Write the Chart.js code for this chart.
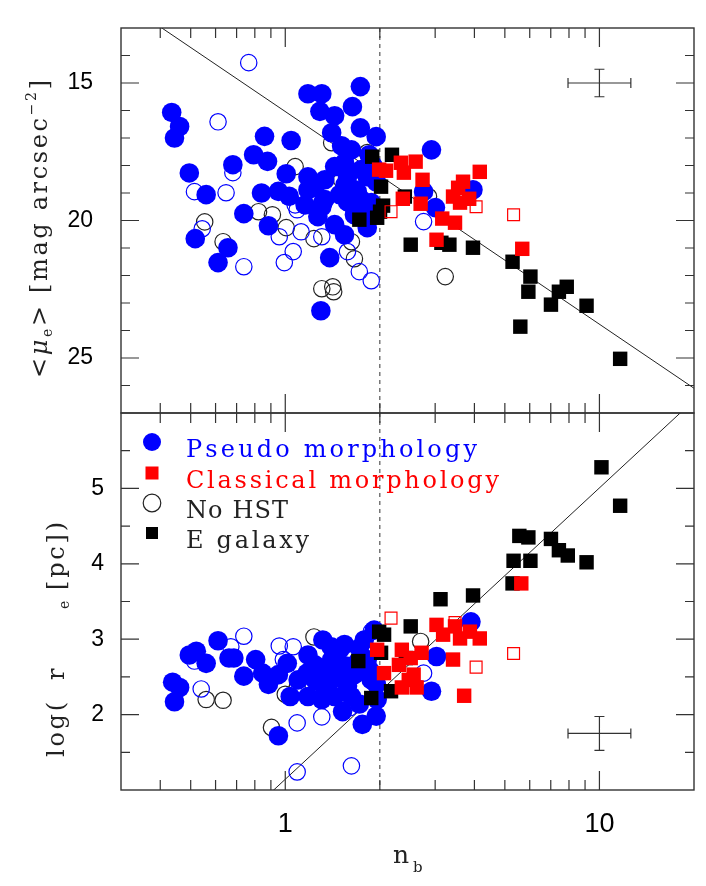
<!DOCTYPE html>
<html>
<head>
<meta charset="utf-8">
<script src="https://cdn.jsdelivr.net/npm/chart.js@4.4.1/dist/chart.umd.min.js"></script>
<style>
  html, body { margin: 0; padding: 0; background: #fff; }
  #wrap { position: relative; width: 706px; height: 886px; }
  #wrap canvas { position: absolute; left: 0; top: 0; }
</style>
</head>
<body>
<div id="wrap">
  <canvas id="topChart" width="706" height="886"></canvas>
  <canvas id="botChart" width="706" height="886"></canvas>
</div>
<script>
// axis ranges and ticks
const xMin = 0.3162, xMax = 20;
const splitN = 2;
const xLabelTicks = [1, 10];
const xMinorTicks = [0.4, 0.5, 0.6, 0.7, 0.8, 0.9, 2, 3, 4, 5, 6, 7, 8, 9];
const muMin = 13, muMax = 27;
const muLabelTicks = [15, 20, 25];
const muMinorTicks = [14, 16, 17, 18, 19, 21, 22, 23, 24, 26];
const reMin = 1, reMax = 6;
const reLabelTicks = [2, 3, 4, 5];
const reMinorTicks = [1.5, 2.5, 3.5, 4.5, 5.5];

const legendLabels = ['Pseudo morphology', 'Classical morphology', 'No HST', 'E galaxy'];

// top panel: [n_b, <mu_e>]
const topPseudo = [
  [0.435,16.07],[0.461,16.58],[0.444,17.0],[0.495,18.27],[0.560,19.06],[0.859,16.94],[1.044,17.09],
  [0.793,17.61],[0.878,17.85],[0.681,17.97],[1.007,18.30],[0.840,19.0],[0.951,18.94],[1.029,19.12],
  [0.738,19.75],[1.181,15.39],[1.307,15.39],[1.734,15.13],[1.289,16.03],[1.436,16.19],[1.636,15.86],
  [1.405,16.81],[1.734,16.63],[1.947,16.95],[1.511,17.28],[1.624,17.43],[1.544,17.90],[1.436,18.04],
  [1.181,18.41],[1.336,18.52],[1.181,18.88],[1.578,18.41],[1.824,18.41],[1.660,18.88],[1.578,19.32],
  [1.746,19.24],[1.307,19.50],[1.270,19.86],[0.517,20.66],[0.657,20.99],[0.611,21.53],[0.884,20.19],
  [1.317,19.35],[1.544,20.52],[1.385,21.35],[1.298,23.28],[1.824,20.26],[1.601,19.35],[2.920,17.43],
  [3.958,18.88],[2.756,18.95],[3.006,19.53],[1.243,18.81],[1.336,19.24],[1.746,18.15],[1.878,19.35],
  [1.696,18.95],[1.436,20.15],[1.660,19.79],[1.489,19.06],[1.850,17.61],[1.156,19.43],
  [1.900,18.00],[1.950,18.60],[1.850,19.60],[1.550,18.70]
];
const topPseudoOpen = [
  [0.765,14.26],[0.611,16.41],[0.681,18.26],[0.514,18.95],[0.648,18.99],[1.091,19.61],[0.544,20.30],
  [0.957,20.59],[1.123,20.41],[1.307,20.59],[1.060,21.13],[0.993,21.53],[0.738,21.68],[1.578,21.13],
  [1.721,21.86],[1.878,22.19],[2.756,20.04],[1.075,19.43]
];
const topNoHst = [
  [1.405,17.17],[1.075,18.04],[0.822,19.68],[0.910,19.79],[0.554,20.05],[1.007,20.26],[0.634,20.77],
  [1.234,20.66],[1.624,20.77],[1.660,21.39],[1.307,22.48],[1.416,22.41],[1.426,22.59],[1.824,17.53],
  [1.511,18.52],[2.857,19.13],[3.23,22.04]
];
const topEll = [
  [1.891,17.68],[2.186,17.61],[2.018,18.77],[2.048,19.46],[1.961,19.90],[1.721,19.97],[2.003,19.68],
  [2.508,20.88],[3.14,20.81],[3.33,20.88],[3.958,20.99],[5.29,21.50],[6.03,22.04],[5.94,22.59],
  [7.01,23.06],[7.43,22.59],[7.87,22.41],[9.10,23.10],[5.60,23.86],[11.64,25.03],[2.402,19.13]
];
const topClassical = [
  [1.990,18.15],[2.093,18.19],[2.333,17.90],[2.60,17.86],[2.385,18.26],[2.735,18.52],[2.367,19.21],
  [2.697,19.39],[3.16,19.93],[3.47,20.08],[3.03,20.70],[3.68,18.59],[4.16,18.23],[3.42,19.13],
  [3.60,19.35],[3.85,19.21],[5.68,21.03],[3.55,18.81]
];
const topClassicalOpen = [[2.171,19.68],[4.05,19.50],[5.33,19.79]];
const topFitN = [0.3162, 20];
const topFitMu = [12.17, 26.10];
const topErr = { n: 10, v: 15.0, dlog: 0.1, dv: 0.5 };

// bottom panel: [n_b, log r_e]
const botPseudo = [
  [0.438,2.43],[0.461,2.36],[0.444,2.17],[0.495,2.79],[0.521,2.84],[0.560,2.68],[0.611,2.98],
  [0.662,2.75],[0.686,2.75],[0.738,2.51],[0.805,2.73],[0.847,2.55],[0.884,2.40],[0.951,2.53],
  [1.015,2.68],[1.037,2.24],[0.951,1.72],[1.181,2.79],[1.317,2.99],[1.173,2.55],[1.181,2.24],
  [1.307,2.20],[1.544,2.93],[1.721,2.88],[1.405,2.73],[1.578,2.64],[1.824,2.73],[1.405,2.46],
  [1.578,2.38],[1.878,2.46],[1.436,2.24],[1.624,2.24],[1.961,2.20],[1.947,1.98],[1.759,1.87],
  [1.918,3.12],[3.90,3.23],[2.92,2.31],[3.03,2.77],[1.243,2.66],[1.489,2.86],[1.660,2.53],
  [1.336,2.33],[1.721,2.14],[1.099,2.46],[1.784,2.99],[1.522,2.04],
  [1.30,2.60],[1.45,2.60],[1.70,2.70],[1.25,2.45],[1.55,2.50],[1.85,2.60],[1.40,2.90],[1.95,2.40]
];
const botPseudoOpen = [
  [0.738,3.04],[0.671,2.90],[0.514,2.71],[0.540,2.34],[0.957,2.91],[1.060,2.90],[0.986,2.73],
  [1.091,1.89],[1.307,1.97],[1.601,2.09],[1.091,1.24],[1.624,1.32],[1.878,3.10],[2.756,2.55]
];
const botNoHst = [
  [0.560,2.20],[0.634,2.19],[1.234,3.03],[0.904,1.83],[1.0,2.27],[1.091,2.36],[2.697,2.97]
];
const botEll = [
  [10.15,5.28],[11.64,4.77],[5.56,4.37],[5.94,4.35],[7.01,4.33],[7.43,4.18],[7.93,4.11],
  [9.10,4.02],[5.33,4.04],[6.03,4.04],[5.29,3.74],[3.12,3.53],[3.96,3.58],[2.508,3.17],
  [1.990,3.10],[2.063,3.06],[1.708,2.71],[2.018,2.82],[2.171,2.31],[1.878,2.22],[2.419,2.75]
];
const botClassical = [
  [5.64,3.74],[3.03,3.19],[3.18,3.06],[3.47,3.17],[3.60,3.01],[3.87,3.10],[4.16,3.01],
  [1.961,2.86],[2.35,2.86],[2.716,2.82],[2.508,2.75],[2.062,2.55],[2.562,2.53],[2.35,2.36],
  [2.619,2.36],[3.42,2.73],[3.71,2.25],[2.30,2.66],[2.472,2.46]
];
const botClassicalOpen = [[2.171,3.28],[4.05,2.63],[5.33,2.81],[3.47,3.22]];
const botFitN = [0.3162, 20];
const botFitRe = [-0.79, 6.17];
const botErr = { n: 10, v: 1.75, dlog: 0.1, dv: 0.225 };

const BLUE = '#0000ff', RED = '#ff0000', INK = '#222';
const SERIF = '"DejaVu Serif", serif';

const pts = arr => arr.map(([x, y]) => ({ x, y }));

function makeDatasets(pseudo, pseudoOpen, noHst, ell, classical, classicalOpen, fitN, fitY) {
  return [
    { data: pts(classical), pointStyle: 'rect', pointRadius: 10.2, backgroundColor: RED, borderWidth: 0, order: 1 },
    { data: pts(classicalOpen), pointStyle: 'rect', pointRadius: 8.4, backgroundColor: 'rgba(0,0,0,0)', borderColor: RED, borderWidth: 1.2, order: 2 },
    { data: pts(ell), pointStyle: 'rect', pointRadius: 10.2, backgroundColor: '#000', borderWidth: 0, order: 3 },
    { data: pts(pseudo), pointStyle: 'circle', pointRadius: 9.8, backgroundColor: BLUE, borderWidth: 0, order: 4 },
    { data: pts(pseudoOpen), pointStyle: 'circle', pointRadius: 8.2, backgroundColor: 'rgba(0,0,0,0)', borderColor: BLUE, borderWidth: 1.2, order: 5 },
    { data: pts(noHst), pointStyle: 'circle', pointRadius: 8.2, backgroundColor: 'rgba(0,0,0,0)', borderColor: INK, borderWidth: 1.2, order: 6 },
    { data: fitN.map((n, i) => ({ x: n, y: fitY[i] })), showLine: true, pointRadius: 0, borderColor: INK, borderWidth: 1, order: 7 }
  ];
}

// draws a string letter by letter, stretched to a given length
function drawFitted(ctx, parts, x0, target) {
  const chars = [];
  parts.forEach(p => {
    for (const ch of p.t) chars.push({ ch, font: p.font, dy: p.dy || 0, color: p.color });
  });
  let natural = 0;
  chars.forEach(c => { ctx.font = c.font; c.w = ctx.measureText(c.ch).width; natural += c.w; });
  const gap = chars.length > 1 ? (target - natural) / (chars.length - 1) : 0;
  let xx = x0;
  chars.forEach(c => {
    ctx.font = c.font;
    if (c.color) ctx.fillStyle = c.color;
    ctx.fillText(c.ch, xx, c.dy);
    xx += c.w + gap;
  });
}

function frameAndTicks(yMajor, yMinor, err, extra) {
  return {
    id: 'frameAndTicks',
    beforeDatasetsDraw(chart) {
      const { ctx, chartArea: a } = chart;
      const px = chart.scales.x.getPixelForValue(splitN);
      ctx.save();
      ctx.strokeStyle = '#333';
      ctx.lineWidth = 1;
      ctx.setLineDash([4, 4]);
      ctx.beginPath();
      ctx.moveTo(px, a.top);
      ctx.lineTo(px, a.bottom);
      ctx.stroke();
      ctx.restore();
    },
    afterDatasetsDraw(chart) {
      const { ctx, chartArea: a } = chart;
      const x = chart.scales.x, y = chart.scales.y;
      ctx.save();
      ctx.strokeStyle = '#333';
      ctx.lineWidth = 1.4;
      ctx.strokeRect(a.left, a.top, a.right - a.left, a.bottom - a.top);
      ctx.lineWidth = 1.2;
      ctx.beginPath();
      const xt = (v, len) => {
        const p = x.getPixelForValue(v);
        ctx.moveTo(p, a.top); ctx.lineTo(p, a.top + len);
        ctx.moveTo(p, a.bottom); ctx.lineTo(p, a.bottom - len);
      };
      const yt = (v, len) => {
        const p = y.getPixelForValue(v);
        ctx.moveTo(a.left, p); ctx.lineTo(a.left + len, p);
        ctx.moveTo(a.right, p); ctx.lineTo(a.right - len, p);
      };
      xLabelTicks.forEach(v => xt(v, 19));
      xMinorTicks.forEach(v => xt(v, 10));
      yMajor.forEach(v => yt(v, 18));
      yMinor.forEach(v => yt(v, 9));
      ctx.stroke();

      // typical error bar
      const cx = x.getPixelForValue(err.n), cy = y.getPixelForValue(err.v);
      const x0 = x.getPixelForValue(err.n / Math.pow(10, err.dlog));
      const x1 = x.getPixelForValue(err.n * Math.pow(10, err.dlog));
      const y0 = y.getPixelForValue(err.v - err.dv), y1 = y.getPixelForValue(err.v + err.dv);
      ctx.beginPath();
      ctx.moveTo(x0, cy); ctx.lineTo(x1, cy);
      ctx.moveTo(x0, cy - 5); ctx.lineTo(x0, cy + 5);
      ctx.moveTo(x1, cy - 5); ctx.lineTo(x1, cy + 5);
      ctx.moveTo(cx, y0); ctx.lineTo(cx, y1);
      ctx.moveTo(cx - 5, y0); ctx.lineTo(cx + 5, y0);
      ctx.moveTo(cx - 5, y1); ctx.lineTo(cx + 5, y1);
      ctx.stroke();
      ctx.restore();
    },
    afterDraw(chart) {
      if (extra) extra(chart.ctx);
    }
  };
}

function drawTopTitle(ctx) {
  const f = SERIF;
  ctx.save();
  ctx.fillStyle = INK;
  ctx.textBaseline = 'alphabetic';
  ctx.translate(47, 229);
  ctx.rotate(-Math.PI / 2);
  drawFitted(ctx, [
    { t: '<', font: '24px ' + f },
    { t: 'μ', font: 'italic 24px ' + f },
    { t: 'e', font: '14px ' + f, dy: 5 },
    { t: '> [mag arcsec', font: '24px ' + f },
    { t: '−2', font: '14px ' + f, dy: -11 },
    { t: ']', font: '24px ' + f }
  ], -149, 298);
  ctx.restore();
}

function drawBottomExtras(ctx) {
  const f = SERIF;
  ctx.save();
  ctx.fillStyle = INK;
  ctx.textBaseline = 'alphabetic';

  // y title
  ctx.save();
  ctx.translate(64, 757);
  ctx.rotate(-Math.PI / 2);
  drawFitted(ctx, [{ t: 'log(', font: '24px ' + f }], 0, 55);
  drawFitted(ctx, [{ t: 'r', font: '24px ' + f }], 77, 10);
  drawFitted(ctx, [{ t: 'e', font: '14px ' + f, dy: 5 }], 148, 8);
  drawFitted(ctx, [{ t: '[pc])', font: '24px ' + f }], 167, 68);
  ctx.restore();

  // x title
  ctx.font = '25px ' + f;
  ctx.fillText('n', 393, 863);
  ctx.font = '15px ' + f;
  ctx.fillText('b', 413, 872);

  // legend
  const rows = [442, 473, 503, 533];
  const widths = [291, 313, 102, 123];
  const colors = [BLUE, RED, INK, INK];
  ctx.fillStyle = BLUE;
  ctx.beginPath(); ctx.arc(152, rows[0], 9, 0, 2 * Math.PI); ctx.fill();
  ctx.fillStyle = RED;
  ctx.fillRect(152 - 6.5, rows[1] - 6.5, 13, 13);
  ctx.strokeStyle = INK; ctx.lineWidth = 1.2;
  ctx.beginPath(); ctx.arc(152, rows[2], 8.8, 0, 2 * Math.PI); ctx.stroke();
  ctx.fillStyle = '#000';
  ctx.fillRect(152 - 6, rows[3] - 6, 12, 12);
  legendLabels.forEach((lab, i) => {
    ctx.save();
    ctx.translate(0, rows[i] + 15);
    drawFitted(ctx, [{ t: lab, font: '24px ' + f, color: colors[i] }], 186, widths[i]);
    ctx.restore();
  });
  ctx.restore();
}

const common = {
  responsive: false,
  animation: false,
  devicePixelRatio: 1,
  events: [],
  plugins: { legend: { display: false }, tooltip: { enabled: false } }
};

const noPad = s => { s.paddingTop = 0; s.paddingBottom = 0; s.paddingLeft = 0; s.paddingRight = 0; };

const xScale = (show) => ({
  type: 'logarithmic', min: xMin, max: xMax, display: show,
  grid: { display: false, drawTicks: false }, border: { display: false },
  afterBuildTicks: s => { s.ticks = xLabelTicks.map(v => ({ value: v })); },
  afterFit: s => { noPad(s); if (show) s.height = 96; },
  ticks: { font: { family: 'Liberation Sans', size: 27 }, color: '#000', padding: 18,
           maxRotation: 0, autoSkip: false, callback: v => String(v) }
});

new Chart(document.getElementById('topChart'), {
  type: 'scatter',
  data: { datasets: makeDatasets(topPseudo, topPseudoOpen, topNoHst, topEll, topClassical, topClassicalOpen, topFitN, topFitMu) },
  options: {
    ...common,
    layout: { padding: { left: 0, right: 12, top: 28, bottom: 473 } },
    scales: {
      x: xScale(false),
      y: {
        min: muMin, max: muMax, reverse: true,
        grid: { display: false, drawTicks: false }, border: { display: false },
        afterBuildTicks: s => { s.ticks = muLabelTicks.map(v => ({ value: v })); },
        afterFit: s => { noPad(s); s.width = 121; },
        ticks: { font: { family: 'Liberation Sans', size: 23 }, color: '#000', padding: 28 }
      }
    }
  },
  plugins: [frameAndTicks(muLabelTicks, muMinorTicks, topErr, drawTopTitle)]
});

new Chart(document.getElementById('botChart'), {
  type: 'scatter',
  data: { datasets: makeDatasets(botPseudo, botPseudoOpen, botNoHst, botEll, botClassical, botClassicalOpen, botFitN, botFitRe) },
  options: {
    ...common,
    layout: { padding: { left: 0, right: 12, top: 413, bottom: 0 } },
    scales: {
      x: xScale(true),
      y: {
        min: reMin, max: reMax,
        grid: { display: false, drawTicks: false }, border: { display: false },
        afterBuildTicks: s => { s.ticks = reLabelTicks.map(v => ({ value: v })); },
        afterFit: s => { noPad(s); s.width = 121; },
        ticks: { font: { family: 'Liberation Sans', size: 23 }, color: '#000', padding: 17 }
      }
    }
  },
  plugins: [frameAndTicks(reLabelTicks, reMinorTicks, botErr, drawBottomExtras)]
});
</script>
</body>
</html>
